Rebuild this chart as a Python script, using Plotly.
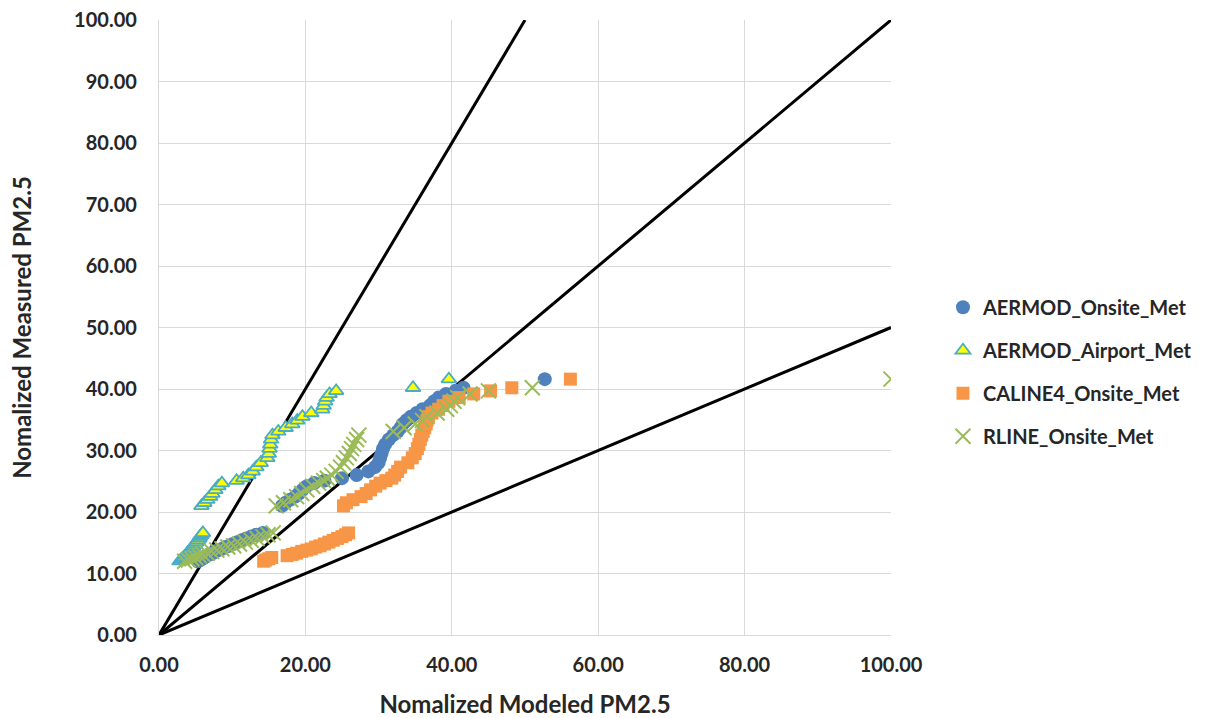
import plotly.graph_objects as go

# Shared sorted measured values (y)
measured = [12.0, 12.2, 12.4, 12.6, 12.9, 13.1, 13.3, 13.6, 13.8, 14.0, 14.3, 14.5, 14.8,
            15.1, 15.4, 15.7, 16.0, 16.3, 16.6,
            21.0, 21.5, 22.0, 22.5, 23.0, 23.6, 24.2, 24.7, 25.1, 25.5, 26.0, 26.6, 27.3,
            28.0, 28.8, 29.5, 30.3, 31.0, 31.8, 32.5, 33.1, 33.7, 34.3, 34.9, 35.5, 36.1,
            36.7, 37.3, 38.0, 38.6, 39.2, 39.7, 40.2, 41.6]

aermod_onsite = [5.3, 5.6, 5.9, 6.2, 6.5, 6.9, 7.3, 7.7, 8.1, 8.6, 9.1, 9.6, 10.1, 10.7,
                 11.3, 11.9, 12.6, 13.3, 14.2,
                 16.8, 17.3, 17.9, 18.6, 19.1, 19.6, 20.2, 21.2, 22.6, 25.0, 27.0, 28.6, 29.5,
                 30.0, 30.2, 30.4, 30.6, 30.9, 31.4, 32.0, 32.6, 33.0, 33.3, 33.8, 34.4, 35.2,
                 36.0, 37.0, 37.6, 38.2, 39.2, 40.5, 41.6, 52.7]

aermod_airport = [2.8, 3.0, 3.2, 3.4, 3.6, 3.8, 3.9, 4.1, 4.3, 4.4, 4.6, 4.7, 4.9, 5.1,
                  5.3, 5.5, 5.6, 5.8, 6.0,
                  5.8, 6.2, 6.6, 7.0, 7.3, 7.7, 8.1, 8.6, 10.6, 11.5, 12.2, 12.8, 13.3,
                  13.9, 14.8, 15.0, 15.1, 15.2, 15.3, 15.5, 16.3, 17.3, 18.2, 18.9, 19.6, 20.8,
                  22.3, 22.5, 22.7, 22.9, 23.3, 24.2, 34.7, 39.6]

caline4_onsite = [14.3, 14.6, 15.0, 15.4, 17.5, 18.2, 18.8, 19.5, 20.2, 20.8, 21.4, 22.0,
                  22.6, 23.2, 23.8, 24.4, 25.0, 25.5, 25.9,
                  25.2, 25.6, 26.5, 27.6, 28.3, 28.9, 29.6, 30.2, 31.0, 31.8, 32.2, 32.6, 33.0,
                  34.0, 34.6, 35.0, 35.3, 35.5, 35.7, 35.9, 36.1, 36.3, 36.5, 36.6, 36.8, 37.3,
                  38.2, 38.8, 39.6, 41.0, 43.0, 45.3, 48.2, 56.2]

rline_onsite = [3.5, 4.0, 4.5, 5.0, 5.5, 6.0, 6.6, 7.2, 7.9, 8.6, 9.4, 10.2, 11.0, 11.8,
                12.6, 13.4, 14.2, 14.9, 15.6,
                16.0, 17.0, 18.0, 18.8, 19.5, 20.2, 21.0, 21.8, 22.5, 23.0, 23.6, 24.2, 24.8,
                25.2, 25.6, 26.0, 26.3, 26.6, 27.0, 27.3, 32.0, 33.5, 35.0, 36.0, 36.6, 38.0,
                39.3, 39.8, 40.3, 40.8, 42.5, 45.0, 51.0, 100.0]

# Reference ratio lines (2:1, 1:1, 1:2)
ref_2to1_x = [0, 50]
ref_2to1_y = [0, 100]
ref_1to1_x = [0, 100]
ref_1to1_y = [0, 100]
ref_1to2_x = [0, 100]
ref_1to2_y = [0, 50]

x_ticks = [0, 20, 40, 60, 80, 100]
y_ticks = [0, 10, 20, 30, 40, 50, 60, 70, 80, 90, 100]

FONT = "Lato"
TXT = "#262626"

fig = go.Figure()

for rx, ry in [(ref_2to1_x, ref_2to1_y), (ref_1to1_x, ref_1to1_y), (ref_1to2_x, ref_1to2_y)]:
    fig.add_trace(go.Scatter(x=rx, y=ry, mode="lines", line=dict(color="black", width=3),
                             showlegend=False, hoverinfo="skip", cliponaxis=True))

fig.add_trace(go.Scatter(x=aermod_onsite, y=measured, mode="markers", name="AERMOD_Onsite_Met",
                         legendgroup="a",
                         marker=dict(symbol="circle", size=14, color="#4F81BD")))
fig.add_trace(go.Scatter(x=aermod_airport, y=measured, mode="markers", name="AERMOD_Airport_Met",
                         legendgroup="b",
                         marker=dict(symbol="triangle-up", size=13, color="#FFFF00",
                                     line=dict(color="#4BACC6", width=1.8))))
fig.add_trace(go.Scatter(x=caline4_onsite, y=measured, mode="markers",
                         name="CALINE4_Onsite_Met", legendgroup="c",
                         marker=dict(symbol="square", size=13, color="#F79646")))
fig.add_trace(go.Scatter(x=rline_onsite, y=measured, mode="markers", name="RLINE_Onsite_Met",
                         legendgroup="d",
                         marker=dict(symbol="x-thin", size=15, color="#9BBB59",
                                     line=dict(color="#9BBB59", width=2))))

axis_common = dict(showgrid=True, gridcolor="#D9D9D9", gridwidth=1.3, zeroline=False,
                   showline=True, linecolor="#D9D9D9", linewidth=1.3, ticks="",
                   tickformat=".2f", automargin=False, ticklabeloverflow="allow",
                   tickfont=dict(family=FONT, size=20, color=TXT, weight="bold"))

fig.update_xaxes(range=[0, 100], tickvals=x_ticks, ticklabelstandoff=12,
                 title=dict(text="Nomalized Modeled PM2.5", standoff=33,
                            font=dict(family=FONT, size=24, color=TXT, weight="bold")),
                 **axis_common)
fig.update_yaxes(range=[0, 100], tickvals=y_ticks, ticklabelstandoff=17,
                 title=dict(text="Nomalized Measured PM2.5", standoff=35,
                            font=dict(family=FONT, size=24, color=TXT, weight="bold")),
                 **axis_common)

fig.update_layout(
    width=1213, height=718,
    margin=dict(l=159, r=322, t=20, b=83, autoexpand=False),
    plot_bgcolor="white", paper_bgcolor="white",
    legend=dict(x=1.071, xanchor="left", y=0.428, yanchor="middle",
                font=dict(family=FONT, size=20, color=TXT, weight="bold"),
                tracegroupgap=14, itemwidth=30),
    showlegend=True,
)

fig.write_html("out.html", config={"displayModeBar": False},
               post_script="document.body.style.margin='0';document.body.style.overflow='hidden';")
